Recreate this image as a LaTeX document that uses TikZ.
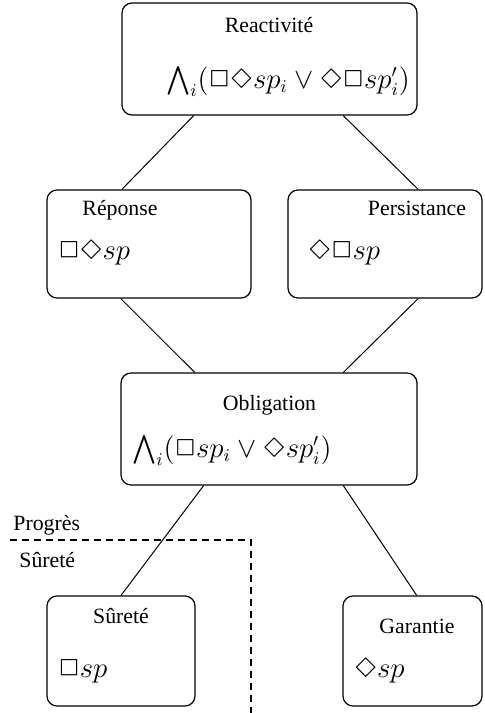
\documentclass[tikz,border=0pt]{standalone}
\usepackage{amsmath,latexsym}
\usepackage{fontspec}
\setmainfont{Liberation Serif}
\usetikzlibrary{calc}
\tikzset{classe/.style={draw, rounded corners=5pt, line width=0.6pt, inner sep=0pt},
  titre/.style={anchor=base, inner sep=0pt, font=\fontsize{10.9}{13}\selectfont},
  formule/.style={anchor=base west, inner sep=0pt, font=\fontsize{13.4}{16}\selectfont},
  lien/.style={line width=0.5pt}}
\begin{document}
\begin{tikzpicture}[x=0.5pt,y=-0.5pt]
\useasboundingbox (0,0) rectangle (484,713);
\node[classe, minimum width=147.5pt, minimum height=56pt] (react) at (269.5,59) {};
\node[classe, minimum width=102pt, minimum height=54pt] (rep) at (149,244) {};
\node[classe, minimum width=97pt, minimum height=54pt] (pers) at (385,244) {};
\node[classe, minimum width=148pt, minimum height=56pt] (oblig) at (269,429) {};
\node[classe, minimum width=74pt, minimum height=55pt] (sur) at (121,651) {};
\node[classe, minimum width=69.5pt, minimum height=55pt] (gar) at (412.5,651) {};
\node[titre] (treact) at (269,32) {Reactivit\'e};
\node[formule] (freact) at (166,88) {$\bigwedge_i(\Box\Diamond sp_i \vee \Diamond\Box sp'_i)$};
\node[titre] (trep) at (120,215) {R\'eponse};
\node[formule] (frep) at (58,259) {$\Box\Diamond sp$};
\node[titre] (tpers) at (417,215) {Persistance};
\node[formule] (fpers) at (308,259) {$\Diamond\Box sp$};
\node[titre] (toblig) at (269.5,410) {Obligation};
\node[formule] (foblig) at (132,457) {$\bigwedge_i(\Box sp_i \vee \Diamond sp'_i)$};
\node[titre] (tsur) at (121,623) {S\^uret\'e};
\node[formule] (fsur) at (58,677) {$\Box sp$};
\node[titre] (tgar) at (417,633) {Garantie};
\node[formule] (fgar) at (354,677) {$\Diamond sp$};
\node[titre, anchor=base west] (prog) at (13,530) {Progr\`es};
\node[titre, anchor=base west] (surete) at (19,567) {S\^uret\'e};
\draw[lien] ($(react.south west)!0.244!(react.south east)$) -- ($(rep.north west)!0.368!(rep.north east)$);
\draw[lien] ($(react.south west)!0.749!(react.south east)$) -- ($(pers.north west)!0.67!(pers.north east)$);
\draw[lien] ($(rep.south west)!0.363!(rep.south east)$) -- ($(oblig.north west)!0.25!(oblig.north east)$);
\draw[lien] ($(pers.south west)!0.67!(pers.south east)$) -- ($(oblig.north west)!0.75!(oblig.north east)$);
\draw[lien] ($(oblig.south west)!0.28!(oblig.south east)$) -- (sur.north);
\draw[lien] ($(oblig.south west)!0.75!(oblig.south east)$) -- ($(gar.north west)!0.53!(gar.north east)$);
\draw[lien, dash pattern=on 3.5pt off 2.5pt, line width=0.6pt] (10,540) -- (251,540) -- (251,713);
\end{tikzpicture}
\end{document}
